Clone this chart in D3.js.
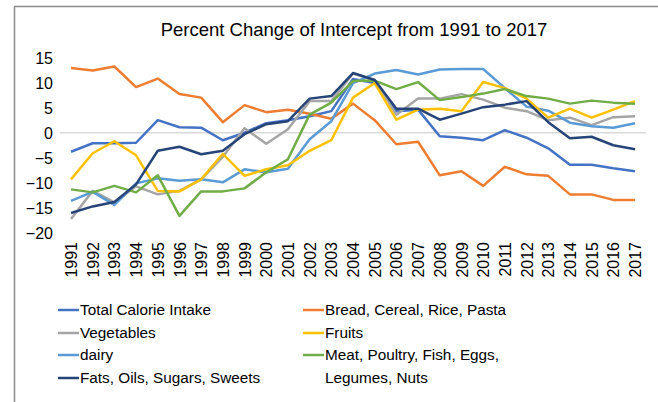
<!DOCTYPE html>
<html>
<head>
  <meta charset="utf-8">
  <script src="https://cdn.jsdelivr.net/npm/d3@7"></script>
  <style>
    body { margin: 0; background: #fff; }
    text { font-family: "Liberation Sans", Arial, sans-serif; fill: #000; }
    .title { font-size: 18.5px; }
    .axis text { font-size: 16px; }
    .legend text { font-size: 15.3px; }
  </style>
</head>
<body>
  <svg id="chart"></svg>
  <script>
    var years = d3.range(1991, 2018).map(String);

    var totalCalorie = [-3.8, -2.1, -2.1, -2.0, 2.5, 1.1, 1.0, -1.5, 0.0, 1.9, 2.5, 3.3, 4.3,
      10.7, 9.9, 4.3, 4.6, -0.7, -1.0, -1.5, 0.5, -1.0, -3.1, -6.4, -6.4, -7.1, -7.7];
    var bread = [12.9, 12.4, 13.2, 9.1, 10.8, 7.7, 7.0, 2.1, 5.5, 4.1, 4.6, 3.8, 2.8,
      5.8, 2.5, -2.3, -1.8, -8.5, -7.7, -10.6, -6.8, -8.3, -8.6, -12.3, -12.3, -13.4, -13.4];
    var vegetables = [-17.2, -11.6, -13.9, -10.7, -12.3, -11.6, -9.3, -4.8, 0.9, -2.2, 0.7, 6.3, 6.3,
      11.8, 10.5, 3.6, 6.8, 6.8, 7.7, 6.6, 5.0, 4.3, 2.5, 3.0, 1.5, 3.1, 3.3];
    var fruits = [-9.3, -4.1, -1.7, -4.5, -11.6, -11.7, -9.3, -4.2, -8.6, -7.3, -6.5, -3.6, -1.5,
      7.0, 9.9, 2.6, 4.6, 4.8, 4.3, 10.1, 8.9, 6.8, 3.0, 4.8, 3.0, 4.6, 6.3];
    var dairy = [-13.6, -11.8, -14.4, -10.1, -9.1, -9.6, -9.3, -9.9, -7.3, -7.9, -7.2, -1.3, 2.3,
      9.9, 11.8, 12.5, 11.6, 12.6, 12.7, 12.7, 8.9, 5.2, 4.4, 2.0, 1.3, 1.0, 1.9];
    var meat = [-11.3, -11.9, -10.6, -11.9, -8.5, -16.6, -11.7, -11.7, -11.1, -7.9, -5.3, 3.6, 6.0,
      10.3, 10.4, 8.7, 10.1, 6.5, 7.1, 7.8, 8.7, 7.3, 6.8, 5.8, 6.4, 6.0, 5.8];
    var fats = [-16.0, -14.7, -13.8, -10.3, -3.6, -2.8, -4.3, -3.6, -0.3, 1.7, 2.3, 6.8, 7.3,
      11.9, 10.5, 4.8, 4.8, 2.6, 3.8, 5.1, 5.6, 6.3, 2.1, -1.1, -0.8, -2.5, -3.3];

    var yTicks = [15, 10, 5, 0, -5, -10, -15, -20];

    var series = [
      { name: 'Total Calorie Intake', values: totalCalorie, color: '#4472C4' },
      { name: 'Bread, Cereal, Rice, Pasta', values: bread, color: '#ED7D31' },
      { name: 'Vegetables', values: vegetables, color: '#A5A5A5' },
      { name: 'Fruits', values: fruits, color: '#FFC000' },
      { name: 'dairy', values: dairy, color: '#5B9BD5' },
      { name: 'Meat, Poultry, Fish, Eggs,|Legumes, Nuts', values: meat, color: '#70AD47' },
      { name: 'Fats, Oils, Sugars, Sweets', values: fats, color: '#264478' }
    ];
    // draw order: later series on top
    var drawOrder = [0, 1, 2, 4, 3, 5, 6];

    var width = 658, height = 402;
    var svg = d3.select('#chart')
      .attr('width', width)
      .attr('height', height);

    // chart frame (left and top edges visible)
    svg.append('path')
      .attr('d', 'M14.5,' + height + 'V6.5H' + width)
      .attr('fill', 'none')
      .attr('stroke', '#8c8c8c')
      .attr('stroke-width', 1.5);

    var x = d3.scalePoint()
      .domain(years)
      .range([71, 635]);

    var y = d3.scaleLinear()
      .domain([-20, 15])
      .range([233, 57.5]);

    svg.append('text')
      .attr('class', 'title')
      .attr('x', 354)
      .attr('y', 36)
      .attr('text-anchor', 'middle')
      .text('Percent Change of Intercept from 1991 to 2017');

    // zero line
    svg.append('line')
      .attr('x1', 60).attr('x2', 646)
      .attr('y1', y(0)).attr('y2', y(0))
      .attr('stroke', '#d9d9d9')
      .attr('stroke-width', 1.5);

    var yAxis = d3.axisLeft(y)
      .tickValues(yTicks)
      .tickSize(0)
      .tickPadding(0)
      .tickFormat(d3.format('d'));

    svg.append('g')
      .attr('class', 'axis')
      .attr('transform', 'translate(53,0)')
      .call(yAxis)
      .call(g => g.select('.domain').remove())
      .selectAll('text')
      .attr('dy', '0.35em');

    var xAxis = d3.axisBottom(x)
      .tickSize(0)
      .tickPadding(0);

    svg.append('g')
      .attr('class', 'axis')
      .attr('transform', 'translate(0,242)')
      .call(xAxis)
      .call(g => g.select('.domain').remove())
      .selectAll('text')
      .attr('transform', 'rotate(-90)')
      .attr('text-anchor', 'end')
      .attr('x', 0)
      .attr('y', 0)
      .attr('dx', 0)
      .attr('dy', '0.35em');

    var line = d3.line()
      .x((d, i) => x(years[i]))
      .y(d => y(d));

    drawOrder.forEach(function (k) {
      var s = series[k];
      svg.append('path')
        .datum(s.values)
        .attr('fill', 'none')
        .attr('stroke', s.color)
        .attr('stroke-width', 2.5)
        .attr('stroke-linejoin', 'round')
        .attr('d', line);
    });

    // legend
    var legend = svg.append('g').attr('class', 'legend');
    var rowY = [310, 333, 355, 378];
    var cols = [58, 303];
    series.forEach(function (s, i) {
      var cx = cols[i % 2], cy = rowY[Math.floor(i / 2)];
      legend.append('line')
        .attr('x1', cx).attr('x2', cx + 21)
        .attr('y1', cy).attr('y2', cy)
        .attr('stroke', s.color)
        .attr('stroke-width', 2.5);
      var parts = s.name.split('|');
      parts.forEach(function (p, j) {
        legend.append('text')
          .attr('x', cx + 22)
          .attr('y', cy + j * 23)
          .attr('dy', '0.35em')
          .text(p);
      });
    });
  </script>
</body>
</html>
